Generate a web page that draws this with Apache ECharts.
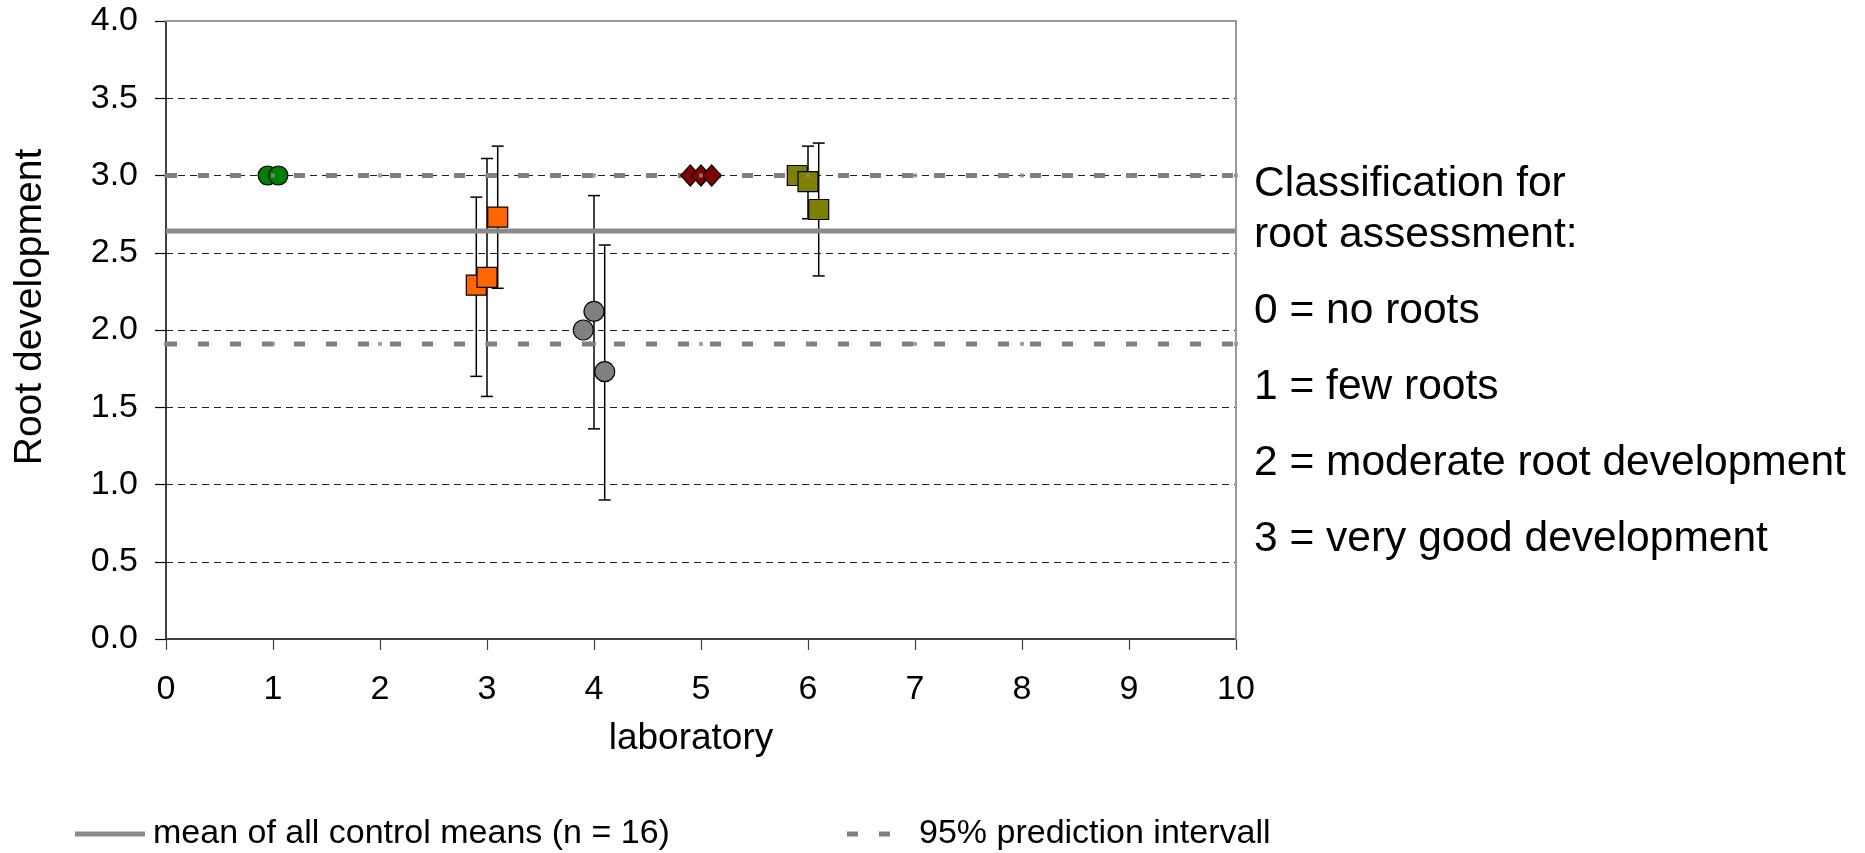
<!DOCTYPE html>
<html>
<head>
<meta charset="utf-8">
<script src="https://cdn.jsdelivr.net/npm/echarts@6/dist/echarts.min.js"></script>
<style>
html,body{margin:0;padding:0;background:#fff;}
#chart{width:1865px;height:853px;}
</style>
</head>
<body>
<div id="chart"></div>
<script>
// ---- data ----
const labTicks = [0, 1, 2, 3, 4, 5, 6, 7, 8, 9, 10];
const lab1Circles = [[0.95, 3.0], [1.05, 3.0]];
const lab3Squares = [[2.9, 2.29], [3.0, 2.34], [3.1, 2.73]];
const lab4Circles = [[3.9, 2.0], [4.0, 2.12], [4.1, 1.73]];
const lab5Diamonds = [[4.9, 3.0], [5.0, 3.0], [5.1, 3.0]];
const lab6Squares = [[5.9, 3.0], [6.0, 2.96], [6.1, 2.78]];
// [x, low, high]
const errorBars = [
  [2.9, 1.70, 2.86], [3.0, 1.57, 3.11], [3.1, 2.27, 3.19],
  [4.0, 1.36, 2.87], [4.1, 0.90, 2.55],
  [6.0, 2.72, 3.19], [6.1, 2.35, 3.21]
];
const meanAll = 2.64;
const predUpper = 3.0;
const predLower = 1.91;
const meanName = 'mean of all control means (n = 16)';
const predName = '95% prediction intervall';
const classTitle = ['Classification for', 'root assessment:'];
const classRules = ['0 = no roots', '1 = few roots', '2 = moderate root development', '3 = very good development'];

// ---- chart ----
const FONT = 'Liberation Sans, Arial, Helvetica, sans-serif';
const chart = echarts.init(document.getElementById('chart'), null, {renderer: 'canvas'});

const meanData = [[labTicks[0], meanAll], [labTicks[labTicks.length - 1], meanAll]];
const upperData = labTicks.map(x => [x, predUpper]);
const lowerData = labTicks.map(x => [x, predLower]);

function scatter(name, data, symbol, size, color) {
  return {
    type: 'scatter', name: name, data: data, symbol: symbol, symbolSize: size, z: 5,
    itemStyle: {color: color, borderColor: '#000', borderWidth: 1.2, opacity: 1},
    emphasis: {disabled: true}
  };
}

const classGraphics = [];
const titleY = [184, 235];
classTitle.forEach((t, i) => classGraphics.push({
  type: 'text', left: 1254, top: titleY[i] - 21,
  style: {text: t, font: '42.5px ' + FONT, fill: '#000'}
}));
const ruleY = [311, 387, 463, 539];
classRules.forEach((t, i) => classGraphics.push({
  type: 'text', left: 1254, top: ruleY[i] - 21,
  style: {text: t, font: '42.5px ' + FONT, fill: '#000'}
}));

const option = {
  animation: false,
  backgroundColor: '#fff',
  textStyle: {fontFamily: FONT},
  grid: {left: 166, top: 21, width: 1070, height: 618, containLabel: false},
  legend: [
    {
      left: 75, top: 817, padding: 0, itemWidth: 70, itemHeight: 5, icon: 'rect',
      selectedMode: false,
      data: [meanName],
      textStyle: {fontSize: 34, color: '#000', fontFamily: FONT, padding: [0, 0, 0, 3]}
    },
    {
      left: 847, top: 817, padding: 0, itemWidth: 43, itemHeight: 5,
      icon: 'path://M0,0H11V5H0Z M32,0H43V5H32Z',
      selectedMode: false,
      data: [predName],
      textStyle: {fontSize: 34, color: '#000', fontFamily: FONT, padding: [0, 0, 0, 24]}
    }
  ],
  xAxis: [
    {
      type: 'value', min: 0, max: 10, interval: 1, position: 'bottom',
      name: 'laboratory', nameLocation: 'middle', nameGap: 81,
      nameTextStyle: {fontSize: 37, color: '#000', fontFamily: FONT, padding: [0, 20, 0, 0]},
      axisLine: {show: true, onZero: false, lineStyle: {color: '#404040', width: 2}},
      axisTick: {show: true, length: 11, lineStyle: {color: '#404040', width: 1.2}},
      axisLabel: {fontSize: 34, color: '#000', margin: 34, fontFamily: FONT},
      splitLine: {show: false}
    },
    {
      type: 'value', min: 0, max: 10, position: 'top', z: 10,
      axisLine: {show: true, onZero: false, lineStyle: {color: '#999', width: 2}},
      axisTick: {show: false}, axisLabel: {show: false}, splitLine: {show: false}
    }
  ],
  yAxis: [
    {
      type: 'value', min: 0, max: 4, interval: 0.5, position: 'left',
      name: 'Root development', nameLocation: 'middle', nameGap: 116,
      nameTextStyle: {fontSize: 39, color: '#000', fontFamily: FONT, padding: [0, 0, 0, 46]},
      axisLine: {show: true, onZero: false, lineStyle: {color: '#000', width: 1.5}},
      axisTick: {show: true, length: 11, lineStyle: {color: '#000', width: 1.2}},
      axisLabel: {fontSize: 34, color: '#000', margin: 28, fontFamily: FONT,
        formatter: v => v.toFixed(1)},
      splitLine: {show: true, lineStyle: {color: '#222', width: 1, type: [7, 5]}}
    },
    {
      type: 'value', min: 0, max: 4, position: 'right', z: 10,
      axisLine: {show: true, onZero: false, lineStyle: {color: '#999', width: 2}},
      axisTick: {show: false}, axisLabel: {show: false}, splitLine: {show: false}
    }
  ],
  series: [
    {
      type: 'custom', name: 'error bars', data: errorBars, z: 2,
      encode: {x: 0, y: [1, 2]},
      renderItem: function (params, api) {
        const x = api.value(0), lo = api.value(1), hi = api.value(2);
        const pHi = api.coord([x, hi]);
        const pLo = api.coord([x, lo]);
        const cap = 6;
        const st = {stroke: '#000', lineWidth: 1.5};
        return {
          type: 'group',
          children: [
            {type: 'line', shape: {x1: pHi[0], y1: pHi[1], x2: pLo[0], y2: pLo[1]}, style: st},
            {type: 'line', shape: {x1: pHi[0] - cap, y1: pHi[1], x2: pHi[0] + cap, y2: pHi[1]}, style: st},
            {type: 'line', shape: {x1: pLo[0] - cap, y1: pLo[1], x2: pLo[0] + cap, y2: pLo[1]}, style: st}
          ]
        };
      }
    },
    {
      type: 'line', name: predName, data: upperData, z: 2, showSymbol: false, symbol: 'none',
      color: '#808080',
      lineStyle: {color: '#808080', width: 5, type: [11, 21], cap: 'butt'},
      itemStyle: {color: '#808080'},
      emphasis: {disabled: true}
    },
    {
      type: 'line', name: predName, data: lowerData, z: 2, showSymbol: false, symbol: 'none',
      color: '#808080',
      lineStyle: {color: '#808080', width: 5, type: [11, 21], cap: 'butt'},
      itemStyle: {color: '#808080'},
      emphasis: {disabled: true}
    },
    {
      type: 'line', name: meanName, data: meanData, z: 3, showSymbol: false, symbol: 'none',
      color: '#8a8a8a',
      lineStyle: {color: '#8a8a8a', width: 5},
      itemStyle: {color: '#8a8a8a'},
      emphasis: {disabled: true}
    },
    scatter('lab 1', lab1Circles, 'circle', 19, '#008000'),
    scatter('lab 3', lab3Squares, 'rect', 20, '#FF6600'),
    scatter('lab 4', lab4Circles, 'circle', 20, '#808080'),
    scatter('lab 5', lab5Diamonds, 'diamond', [19, 21], '#800000'),
    scatter('lab 6', lab6Squares, 'rect', 20, '#808000'),
    {
      type: 'scatter', name: 'pred points', data: upperData.concat(lowerData), z: 6,
      symbol: 'rect', symbolSize: 4, itemStyle: {color: '#8a8a8a'}, emphasis: {disabled: true}
    }
  ],
  graphic: classGraphics
};
chart.setOption(option);
</script>
</body>
</html>
